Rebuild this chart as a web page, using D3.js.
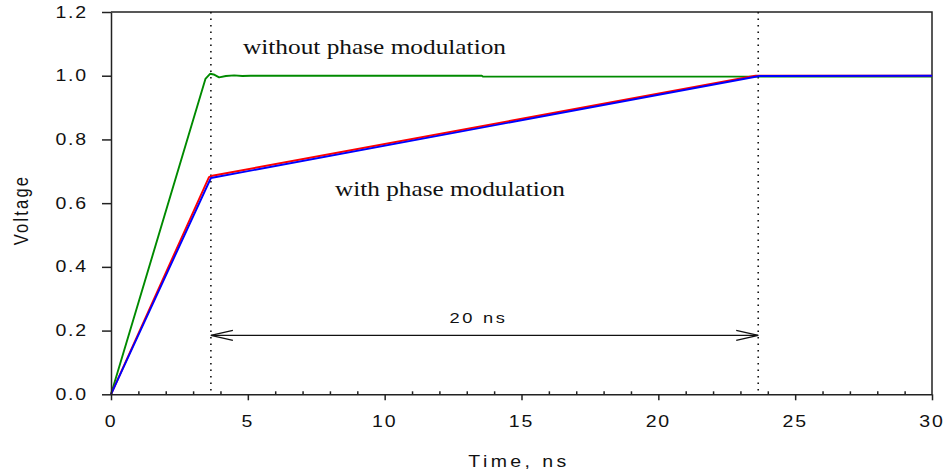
<!DOCTYPE html>
<html>
<head>
<meta charset="utf-8">
<script src="https://cdn.jsdelivr.net/npm/d3@7"></script>
<style>
  html, body { margin: 0; padding: 0; background: #fff; }
  svg { display: block; }
</style>
</head>
<body>
<svg id="chart" width="947" height="476"></svg>
<script>
// Step response, time in ns
const greenTime = [0, 3.45, 3.62, 3.75, 3.95, 4.2, 4.5, 4.8, 5.1, 13.55, 13.6, 30];
const greenVolt = [0, 0.99, 1.006, 1.004, 0.995, 0.999, 1.001, 0.999, 1.0, 1.0, 0.997, 0.997];

const redTime = [0, 3.58, 3.7, 23.55, 30];
const redVolt = [0, 0.682, 0.686, 1.0, 1.0];

const blueTime = [0, 3.65, 23.7, 30];
const blueVolt = [0, 0.679, 0.999, 1.0];

// Markers: edges of the 20 ns window
const markerTimes = [3.65, 23.65];
const spanLevel = 0.185;
const spanLabel = "20 ns";

const xTicks = [0, 5, 10, 15, 20, 25, 30];
const xMinorTicks = d3.range(0, 31, 1);
const yTicks = [0.0, 0.2, 0.4, 0.6, 0.8, 1.0, 1.2];

const svg = d3.select("#chart");
const x = d3.scaleLinear().domain([0, 30]).range([111, 932]);
const y = d3.scaleLinear().domain([0, 1.2]).range([394.3, 12]);

const sans = "'Liberation Sans', Arial, sans-serif";
const serif = "'Liberation Serif', 'Times New Roman', serif";
const stretch = 1.22;
const axisColor = "#222";

// Text helper: horizontally widened glyphs
function label(txt, px, py, opts = {}) {
  const g = svg.append("g").attr("transform", `translate(${px},${py}) scale(${stretch},1)` + (opts.rotate ? ` rotate(${opts.rotate})` : ""));
  g.append("text")
    .attr("text-anchor", opts.anchor || "middle")
    .attr("font-family", opts.family || sans)
    .attr("font-size", opts.size || 16)
    .attr("letter-spacing", opts.spacing != null ? opts.spacing : 1.5)
    .attr("fill", "#111")
    .text(txt);
  return g;
}

// Right-align a label group so its ink box ends at xRight
function alignRight(g, xRight) {
  const svgBox = svg.node().getBoundingClientRect();
  const r = g.node().getBoundingClientRect();
  const dx = xRight - (r.right - svgBox.left);
  const t = g.attr("transform");
  g.attr("transform", `translate(${dx},0) ` + t);
}

// Frame (top and right)
svg.append("path")
  .attr("d", `M${x(0)},${y(1.2)}H${x(30)}V${y(0)}`)
  .attr("fill", "none").attr("stroke", axisColor).attr("stroke-width", 1.5);

// Dotted markers
svg.selectAll("line.marker").data(markerTimes).enter().append("line")
  .attr("class", "marker")
  .attr("x1", d => x(d)).attr("x2", d => x(d))
  .attr("y1", y(1.2)).attr("y2", y(0))
  .attr("stroke", "#111").attr("stroke-width", 1.6)
  .attr("stroke-dasharray", "1.6,4.9");

// Data lines
const line = d3.line().x(d => x(d[0])).y(d => y(d[1]));
const series = [
  { t: greenTime, v: greenVolt, color: "#008a00" },
  { t: redTime, v: redVolt, color: "#ff0000" },
  { t: blueTime, v: blueVolt, color: "#0000ff" }
];
series.forEach(s => {
  svg.append("path")
    .datum(s.t.map((t, i) => [t, s.v[i]]))
    .attr("d", line)
    .attr("fill", "none")
    .attr("stroke", s.color)
    .attr("stroke-width", 1.9)
    .attr("stroke-linejoin", "round");
});

// Span arrow
const ay = y(spanLevel);
const x0 = x(markerTimes[0]), x1 = x(markerTimes[1]);
svg.append("line").attr("x1", x0).attr("x2", x1).attr("y1", ay).attr("y2", ay)
  .attr("stroke", "#111").attr("stroke-width", 1.3);
svg.append("path")
  .attr("d", `M${x0 + 22},${ay - 5}L${x0},${ay}L${x0 + 22},${ay + 5}M${x1 - 22},${ay - 5}L${x1},${ay}L${x1 - 22},${ay + 5}`)
  .attr("fill", "none").attr("stroke", "#111").attr("stroke-width", 1.3);
label(spanLabel, (x0 + x1) / 2 - 6, ay - 12, { size: 15, spacing: 2.2 });

// Axes
const xAxis = svg.append("g").attr("transform", `translate(0,${y(0)})`)
  .call(d3.axisBottom(x).tickValues(xTicks).tickSize(6).tickSizeOuter(0).tickFormat(""));
const xMinor = svg.append("g").attr("transform", `translate(0,${y(0)})`)
  .call(d3.axisTop(x).tickValues(xMinorTicks.filter(d => d % 5 !== 0)).tickSize(3).tickSizeOuter(0).tickFormat(""));
xMinor.select(".domain").remove();
const yAxis = svg.append("g").attr("transform", `translate(${x(0)},0)`)
  .call(d3.axisLeft(y).tickValues(yTicks).tickSize(9).tickSizeOuter(0).tickFormat(""));
[xAxis, xMinor, yAxis].forEach(a => {
  a.selectAll("path, line").attr("stroke", axisColor).attr("stroke-width", 1.5);
});

// Tick labels
xTicks.forEach(t => label(String(t), x(t), 427));
yTicks.forEach(v => {
  const g = label(d3.format(".1f")(v), 0, y(v) + 5.5, { anchor: "start" });
  alignRight(g, 88);
});

// Axis titles
label("Time, ns", 519, 467, { spacing: 2.8 });
label("Voltage", 28, 210, { rotate: -90, spacing: 2.2, size: 16.5 });

// Curve annotations
svg.append("text").attr("x", 243).attr("y", 54)
  .attr("font-family", serif).attr("font-size", 21.5).attr("fill", "#111")
  .attr("textLength", 263).attr("lengthAdjust", "spacingAndGlyphs")
  .text("without phase modulation");
svg.append("text").attr("x", 335).attr("y", 196)
  .attr("font-family", serif).attr("font-size", 21.5).attr("fill", "#111")
  .attr("textLength", 230).attr("lengthAdjust", "spacingAndGlyphs")
  .text("with phase modulation");
</script>
</body>
</html>
